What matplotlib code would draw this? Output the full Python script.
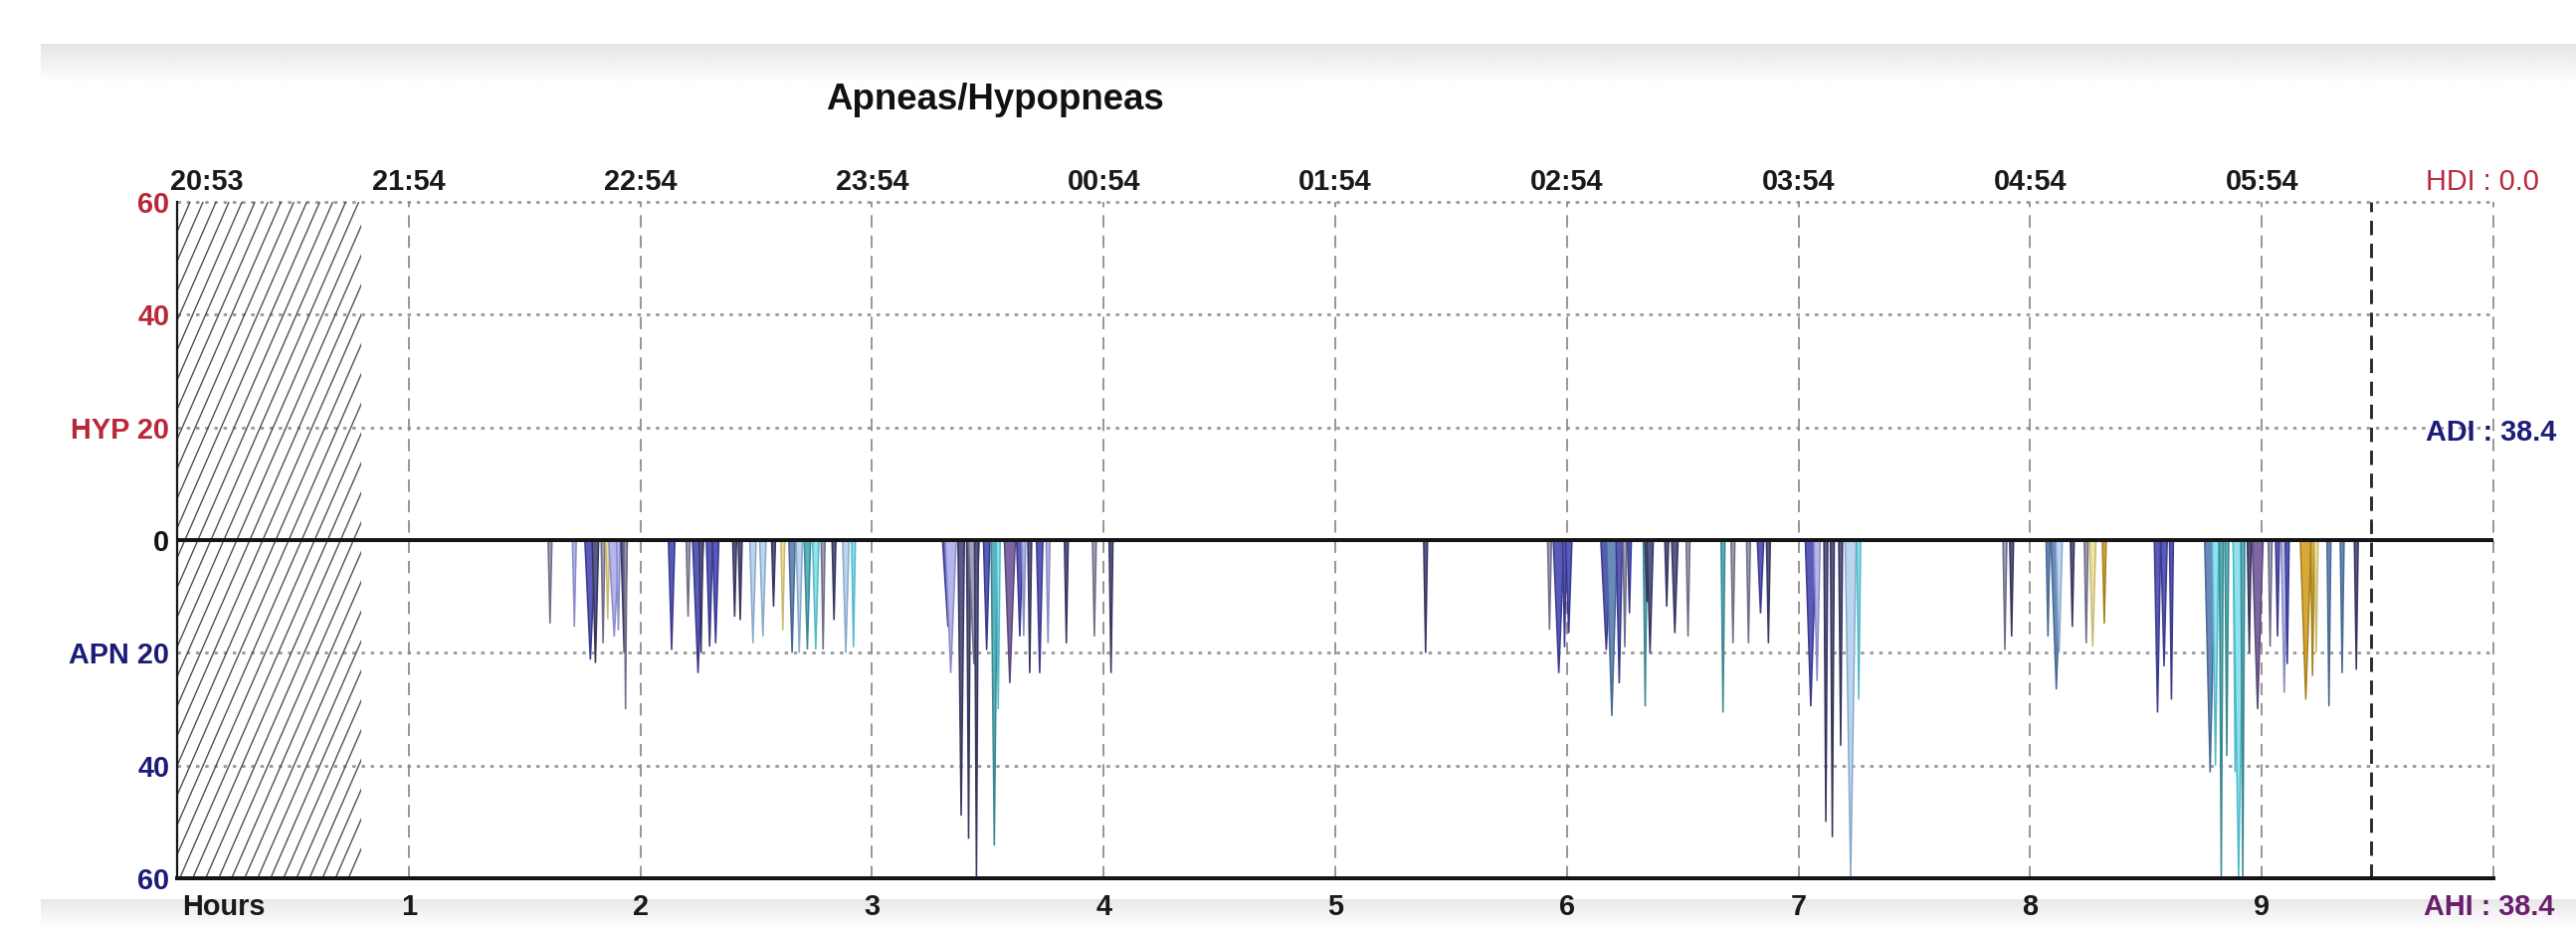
import numpy as np
import matplotlib
matplotlib.use("Agg")
import matplotlib.pyplot as plt
from matplotlib.patches import Rectangle

plt.rcParams['font.family'] = ['Liberation Sans Narrow', 'Liberation Sans', 'DejaVu Sans']

# data
hour_ticks = [1, 2, 3, 4, 5, 6, 7, 8, 9]
clock_labels = ["21:54", "22:54", "23:54", "00:54", "01:54", "02:54", "03:54", "04:54", "05:54"]
start_label = "20:53"
y_ticks = [60, 40, 20, 0, -20, -40, -60]
y_labels = ["60", "40", "HYP 20", "0", "APN 20", "40", "60"]
y_label_colors = ["#b8283a", "#b8283a", "#b8283a", "#111111", "#1c1c78", "#1c1c78", "#1c1c78"]
hdi, adi, ahi = 0.0, 38.4, 38.4
no_data_until = 0.795    # hours, hatched part at start
record_end = 9.47        # hours

event_hours = [
    1.610, 1.715, 1.784, 1.806, 1.839, 1.859, 1.887, 1.905, 1.930, 1.936,
    2.135, 2.206, 2.249, 2.262, 2.299, 2.325, 2.407, 2.431, 2.486, 2.529,
    2.575, 2.615, 2.655, 2.686, 2.721, 2.757, 2.789, 2.836, 2.887, 2.920,
    3.328, 3.340, 3.385, 3.417, 3.440, 3.451, 3.495, 3.528, 3.545, 3.595,
    3.638, 3.655, 3.681, 3.724, 3.760, 3.839, 3.960, 4.032,
    5.390,
    5.925, 5.965, 5.990, 6.008, 6.170, 6.194, 6.226, 6.250, 6.270, 6.338,
    6.345, 6.359, 6.431, 6.466, 6.523, 6.674, 6.717, 6.784, 6.836, 6.870,
    7.053, 7.080, 7.118, 7.146, 7.182, 7.225, 7.260,
    7.891, 7.920, 8.077, 8.113, 8.125, 8.182, 8.242, 8.270, 8.320,
    8.550, 8.578, 8.610, 8.777, 8.800, 8.825, 8.849, 8.885, 8.900, 8.918,
    8.946, 8.982, 9.036, 9.068, 9.097, 9.110, 9.190, 9.219, 9.235, 9.290,
    9.347, 9.408,
]
event_depth = [
    14.8, 15.4, 21.2, 21.8, 18.3, 14.0, 17.1, 16.0, 20.0, 30.0,
    19.5, 13.6, 23.6, 20.0, 18.9, 18.3, 13.6, 14.2, 18.3, 17.1,
    11.8, 16.0, 20.0, 20.0, 19.4, 19.4, 19.4, 14.2, 20.0, 19.0,
    15.4, 23.6, 48.9, 53.0, 22.0, 60.0, 19.5, 54.2, 30.0, 25.4,
    17.1, 17.0, 23.6, 23.6, 18.3, 18.3, 17.1, 23.6,
    20.0,
    15.9, 23.6, 19.0, 16.5, 19.5, 31.2, 25.4, 19.0, 13.0, 29.5,
    11.0, 20.0, 11.8, 16.5, 17.1, 30.6, 18.3, 18.3, 13.0, 18.3,
    29.5, 25.0, 50.0, 52.7, 36.5, 60.0, 28.3,
    19.5, 17.1, 17.1, 26.5, 20.0, 15.4, 18.3, 18.9, 14.8,
    30.6, 22.4, 28.3, 41.2, 40.0, 60.0, 38.3, 41.2, 60.0, 60.0,
    20.0, 30.0, 18.9, 17.1, 27.1, 22.0, 28.3, 24.1, 20.0, 29.5,
    23.6, 23.0,
]
event_type = [
    'gr', 'lv', 'bl', 'dk', 'gr', 'yl', 'lv', 'lv', 'dk', 'gr',
    'bl', 'gr', 'bl', 'dk', 'bl', 'bl', 'dk', 'dk', 'lb', 'lb',
    'dk', 'yl', 'sb', 'lb', 'tl', 'cy', 'gr', 'dk', 'lb', 'cy',
    'bl', 'lv', 'dk', 'dk', 'gr', 'dk', 'bl', 'tl', 'cy', 'pu',
    'bl', 'lv', 'dk', 'bl', 'lv', 'dk', 'gr', 'dk',
    'dk',
    'gr', 'bl', 'bl', 'bl', 'bl', 'sb', 'bl', 'gr', 'bl', 'tl',
    'dk', 'dk', 'dk', 'dk', 'gr', 'tl', 'gr', 'gr', 'bl', 'dk',
    'bl', 'lv', 'dk', 'dk', 'dk', 'lb', 'cy',
    'gr', 'dk', 'sb', 'sb', 'lb', 'dk', 'gr', 'yl', 'gd',
    'bl', 'bl', 'bl', 'sb', 'cy', 'tl', 'tl', 'cy', 'cy', 'tl',
    'dk', 'pu', 'gr', 'bl', 'lv', 'bl', 'gd', 'gd', 'yl', 'sb',
    'sb', 'dk',
]
event_dur_s = [
    60, 60, 170, 100, 60, 60, 170, 60, 100, 45,
    100, 60, 170, 60, 100, 100, 60, 60, 100, 100,
    60, 60, 100, 100, 100, 100, 60, 60, 100, 60,
    170, 170, 100, 60, 170, 60, 100, 100, 60, 170,
    100, 60, 60, 100, 60, 60, 60, 60,
    60,
    60, 170, 60, 100, 170, 170, 100, 60, 60, 60,
    60, 100, 60, 100, 60, 60, 60, 60, 100, 60,
    170, 100, 60, 60, 60, 170, 60,
    60, 60, 60, 170, 100, 60, 60, 100, 60,
    100, 100, 60, 170, 100, 60, 60, 60, 170, 60,
    60, 170, 60, 60, 100, 60, 170, 60, 60, 60,
    60, 60,
]

palette = {
    'dk': ('#5a5a8a', '#363660'),
    'bl': ('#5a5ab8', '#3a3a8e'),
    'lv': ('#b6b6ee', '#8c8cc8'),
    'gr': ('#a2a2b6', '#6e6e88'),
    'lb': ('#bcd6ee', '#8aaacc'),
    'cy': ('#90e2ee', '#52bacb'),
    'tl': ('#5ab2ba', '#3a8a92'),
    'sb': ('#6a8abb', '#486a92'),
    'gd': ('#d8a83a', '#a8801a'),
    'yl': ('#eee2a2', '#cabb72'),
    'pu': ('#7e66a2', '#5a4678'),
}

W, H, DPI = 2589, 934, 160
fig = plt.figure(figsize=(W / DPI, H / DPI), dpi=DPI)
fig.patch.set_facecolor('white')

# grey window bars top and bottom
top_bar = fig.add_axes([41 / W, 1 - 84 / H, 1 - 41 / W, 40 / H], zorder=0)
top_bar.imshow(np.linspace(0.90, 1.0, 50).reshape(-1, 1), cmap='gray', vmin=0, vmax=1,
               aspect='auto', extent=(0, 1, 0, 1))
top_bar.axis('off')
bot_bar = fig.add_axes([41 / W, 0, 1 - 41 / W, 30 / H], zorder=0)
bot_bar.imshow(np.linspace(0.91, 1.0, 50).reshape(-1, 1), cmap='gray', vmin=0, vmax=1,
               aspect='auto', extent=(0, 1, 0, 1))
bot_bar.axis('off')

ax = fig.add_axes([178 / W, 1 - 883 / H, (2506 - 178) / W, (883 - 203) / H], zorder=1)
ax.set_xlim(0, 10)
ax.set_ylim(-60, 60)
for s in ax.spines.values():
    s.set_visible(False)
ax.set_xticks([])
ax.set_yticks(y_ticks, y_labels)
ax.tick_params(axis='y', length=0, pad=3.5, labelsize=13)
for lab, c in zip(ax.get_yticklabels(), y_label_colors):
    lab.set_color(c)
    lab.set_fontweight('bold')

# grid
for yv in [60, 40, 20, -20, -40]:
    ax.axhline(yv, color='#9c9c9c', lw=1.3, ls=(0, (1.2, 2.0)), zorder=1, clip_on=False)
for h in hour_ticks + [10]:
    ax.axvline(h, color='#8c8c8c', lw=0.8, ls=(0, (7, 4.5)), zorder=1, clip_on=False)
ax.axvline(record_end, color='#2a2a2a', lw=1.3, ls=(0, (5, 3)), zorder=1)

# hatched part where recording had not started
clip = Rectangle((0, -60), no_data_until, 120, transform=ax.transData)
slope = 94.0  # data units per hour
for x0 in np.arange(-120 / slope, no_data_until, 0.056):
    ln, = ax.plot([x0, x0 + 120 / slope], [-60, 60], color='#4a4a4a', lw=0.6, zorder=2)
    ln.set_clip_path(clip)

# events, drawn as thin tapered spikes below zero
for t, d, k, dur in zip(event_hours, event_depth, event_type, event_dur_s):
    w = dur / 3600.0
    face, edge = palette[k]
    ax.fill([t - w / 2, t + w / 2, t], [0, 0, -d], facecolor=face, edgecolor=edge,
            lw=0.7, zorder=3)

ax.axhline(0, color='#151515', lw=1.8, zorder=5)
ax.axhline(-60, color='#151515', lw=1.8, zorder=5, clip_on=False)
ax.axvline(0, color='#151515', lw=1.0, zorder=5, clip_on=False)

# time labels on top, hour labels at the bottom
lab_kw = dict(fontsize=13, fontweight='bold', color='#1a1a1a', clip_on=False)
xt = ax.get_xaxis_transform()
ax.text(-0.03, 1.018, start_label, ha='left', va='baseline', transform=xt, **lab_kw)
for h, lab in zip(hour_ticks, clock_labels):
    ax.text(h, 1.018, lab, ha='center', va='baseline', transform=xt, **lab_kw)
ax.text(0.02, -0.022, "Hours", ha='left', va='top', transform=xt, **lab_kw)
for h in hour_ticks:
    ax.text(h, -0.022, str(h), ha='center', va='top', transform=xt, **lab_kw)

ax.text(9.71, 1.018, f"HDI : {hdi:.1f}", ha='left', va='baseline', fontsize=13,
        color='#b8283a', transform=xt, clip_on=False)
ax.text(9.71, 19, f"ADI : {adi:.1f}", ha='left', va='center', fontsize=13,
        fontweight='bold', color='#1c1c78', clip_on=False)
ax.text(9.70, -0.022, f"AHI : {ahi:.1f}", ha='left', va='top', fontsize=13,
        fontweight='bold', color='#6a1e6e', transform=xt, clip_on=False)

fig.text(1000 / W, 1 - 101 / H, "Apneas/Hypopneas", ha='center', va='center',
         fontsize=16.5, fontweight='bold', color='#111111')

fig.savefig('out.png', dpi=DPI)
